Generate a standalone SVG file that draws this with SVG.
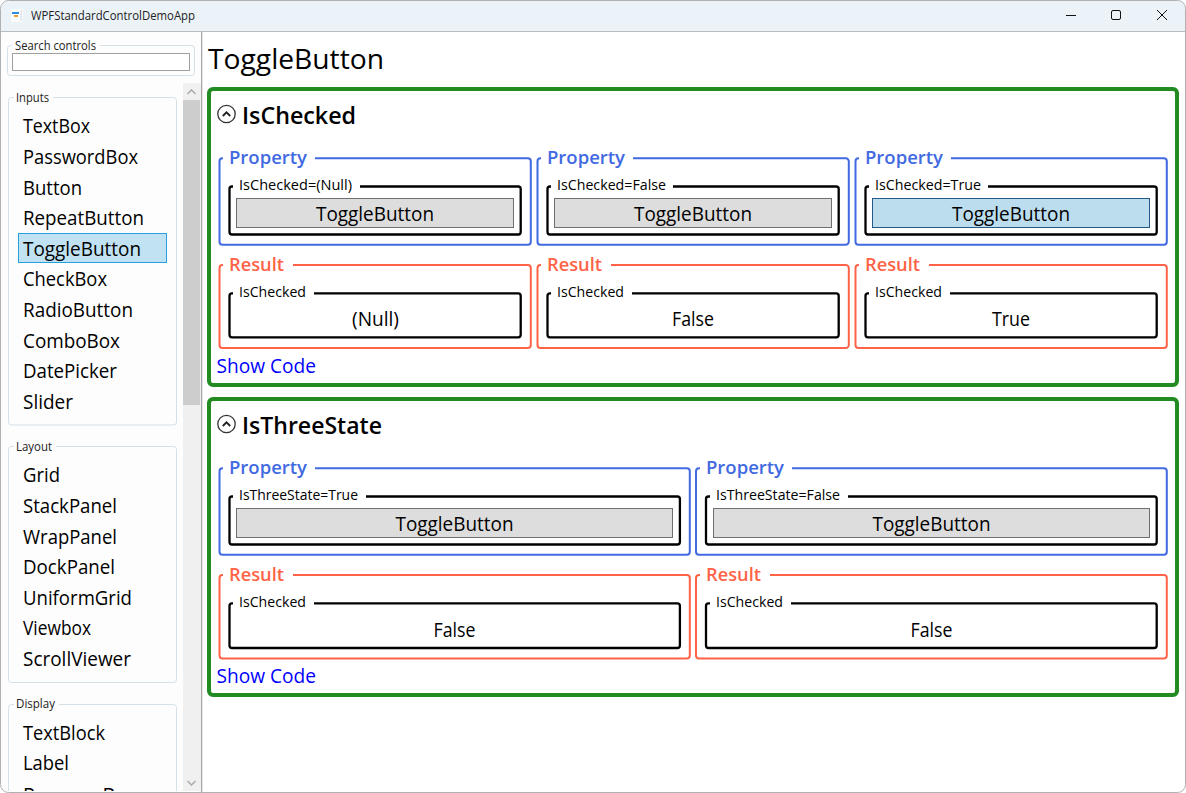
<svg xmlns="http://www.w3.org/2000/svg" width="1186" height="793" viewBox="0 0 1186 793">
<style>
text{font-family:"Open Sans","Noto Sans","Liberation Sans",sans-serif;fill:#000;white-space:pre}
.item{font-size:19.5px}
.small{font-size:12.5px;fill:#222}
.h2{font-size:24px;font-weight:600}
.prop{font-size:18px;font-weight:600;fill:#4169e1}
.res{font-size:18px;font-weight:600;fill:#ff6347}
.lab{font-size:14px}
.val{font-size:19.5px}
.link{font-size:19.5px;fill:#0000ff}
.side{fill:none;stroke:#d5dfe6;stroke-width:1}
.green{fill:none;stroke:#228b22;stroke-width:4}
.blue{fill:none;stroke:#4169e1;stroke-width:2}
.tomato{fill:none;stroke:#ff6347;stroke-width:2}
.black{fill:none;stroke:#000;stroke-width:2.3}
.btn{fill:#dddddd;stroke:#707070;stroke-width:1}
.on{fill:#bcddee;stroke:#245a85;stroke-width:1}
.ico{fill:none;stroke:#333;stroke-width:1.3}
.chev{fill:none;stroke:#222;stroke-width:1.8}
</style>
<defs>
<clipPath id="sideClip"><rect x="2" y="80" width="180" height="711"/></clipPath>
</defs>
<rect width="1186" height="793" fill="#fff"/>
<g id="window">
<path d="M1 31V9a8 8 0 0 1 8-8H1177a8 8 0 0 1 8 8V31Z" fill="#ecf3f8"/>
<path d="M1 31.5H1185" stroke="#b8bcc0" stroke-width="1"/>
<rect x="1" y="32" width="200" height="759" fill="#fdfdfd"/>
<rect x="201" y="32" width="1.3" height="760" fill="#a8a8a8"/>
<rect x="0.5" y="0.5" width="1185" height="792" rx="8" fill="none" stroke="#b0b0b0" stroke-width="1"/>
<rect x="11" y="9" width="12" height="13" fill="#fafbfc"/>
<rect x="12" y="12" width="7" height="2" fill="#2a8fe0"/>
<rect x="14" y="15" width="4" height="2" fill="#e8a030"/>
<rect x="20.5" y="10" width="1.5" height="11" fill="#dfe3ea"/>
<text x="31" y="20" class="small" textLength="164" lengthAdjust="spacingAndGlyphs">WPFStandardControlDemoApp</text>
<path d="M1066 15.5H1076" stroke="#111" stroke-width="1"/>
<rect x="1111.5" y="10.5" width="9" height="9" rx="1.5" fill="none" stroke="#111" stroke-width="1"/>
<path d="M1157 10L1167 20M1167 10L1157 20" stroke="#111" stroke-width="1" fill="none"/>
</g>
<g id="search">
<path class="side" d="M12 45.5H10.5a3 3 0 0 0-3 3V72.5a3 3 0 0 0 3 3H191.5a3 3 0 0 0 3-3V48.5a3 3 0 0 0-3-3H100"/>
<text x="15" y="50" class="small" textLength="81" lengthAdjust="spacingAndGlyphs">Search controls</text>
<rect x="12.5" y="53.5" width="177" height="17" fill="#fff" stroke="#a0a0a0" stroke-width="1"/>
</g>
<g id="scrollbar">
<rect x="183" y="83" width="18" height="708" fill="#f0f0f0"/>
<rect x="183" y="100" width="17" height="305" fill="#cdcdcd"/>
<path d="M187.5 94L191.5 90L195.5 94" fill="none" stroke="#a6a6a6" stroke-width="1.3"/>
<path d="M187.500 781L191.500 785L195.500 781" fill="none" stroke="#a6a6a6" stroke-width="1.3"/>
</g>
<g id="sidebar" clip-path="url(#sideClip)">
<g id="inputs">
<path class="side" d="M14 97.500H11.500a3 3 0 0 0-3 3V422a3 3 0 0 0 3 3H173.500a3 3 0 0 0 3-3V100.500a3 3 0 0 0-3-3H53"/>
<text x="16" y="102" class="small" textLength="33" lengthAdjust="spacingAndGlyphs">Inputs</text>
<rect x="18.500" y="233.500" width="148" height="29" fill="#c1e2f2" stroke="#26a0da" stroke-width="1"/>
<text x="23" y="133" class="item" textLength="67" lengthAdjust="spacingAndGlyphs">TextBox</text>
<text x="23" y="164" class="item" textLength="115" lengthAdjust="spacingAndGlyphs">PasswordBox</text>
<text x="23" y="195" class="item" textLength="59" lengthAdjust="spacingAndGlyphs">Button</text>
<text x="23" y="225" class="item" textLength="121" lengthAdjust="spacingAndGlyphs">RepeatButton</text>
<text x="23" y="256" class="item" textLength="118" lengthAdjust="spacingAndGlyphs">ToggleButton</text>
<text x="23" y="286" class="item" textLength="84" lengthAdjust="spacingAndGlyphs">CheckBox</text>
<text x="23" y="317" class="item" textLength="110" lengthAdjust="spacingAndGlyphs">RadioButton</text>
<text x="23" y="348" class="item" textLength="97" lengthAdjust="spacingAndGlyphs">ComboBox</text>
<text x="23" y="378" class="item" textLength="94" lengthAdjust="spacingAndGlyphs">DatePicker</text>
<text x="23" y="409" class="item" textLength="50" lengthAdjust="spacingAndGlyphs">Slider</text>
</g>
<g id="layout">
<path class="side" d="M14 446.500H11.500a3 3 0 0 0-3 3V679.500a3 3 0 0 0 3 3H173.500a3 3 0 0 0 3-3V449.500a3 3 0 0 0-3-3H56"/>
<text x="16" y="451" class="small" textLength="36" lengthAdjust="spacingAndGlyphs">Layout</text>
<text x="23" y="482" class="item" textLength="37" lengthAdjust="spacingAndGlyphs">Grid</text>
<text x="23" y="513" class="item" textLength="94" lengthAdjust="spacingAndGlyphs">StackPanel</text>
<text x="23" y="544" class="item" textLength="94" lengthAdjust="spacingAndGlyphs">WrapPanel</text>
<text x="23" y="574" class="item" textLength="92" lengthAdjust="spacingAndGlyphs">DockPanel</text>
<text x="23" y="605" class="item" textLength="109" lengthAdjust="spacingAndGlyphs">UniformGrid</text>
<text x="23" y="635" class="item" textLength="68" lengthAdjust="spacingAndGlyphs">Viewbox</text>
<text x="23" y="666" class="item" textLength="108" lengthAdjust="spacingAndGlyphs">ScrollViewer</text>
</g>
<g id="display">
<path class="side" d="M14 704.500H11.500a3 3 0 0 0-3 3V800M176.500 800V707.500a3 3 0 0 0-3-3H59"/>
<text x="16" y="708" class="small" textLength="39" lengthAdjust="spacingAndGlyphs">Display</text>
<text x="23" y="740" class="item" textLength="82" lengthAdjust="spacingAndGlyphs">TextBlock</text>
<text x="23" y="770" class="item" textLength="46" lengthAdjust="spacingAndGlyphs">Label</text>
<text x="23" y="801.500" class="item" textLength="111" lengthAdjust="spacingAndGlyphs">ProgressBar</text>
</g>
</g>
<text id="page-title" x="208" y="69" font-size="28" textLength="176" lengthAdjust="spacingAndGlyphs">ToggleButton</text>

<g id="section-ischecked">
<rect class="green" x="209" y="89" width="968" height="296" rx="4"/>
<circle class="ico" cx="226.500" cy="114" r="8.700"/>
<path class="chev" d="M222.800 116L226.500 112.300L230.200 116"/>
<text x="242" y="124" class="h2" textLength="114" lengthAdjust="spacingAndGlyphs">IsChecked</text>
<text x="216.500" y="373" class="link" textLength="99.500" lengthAdjust="spacingAndGlyphs">Show Code</text>
</g>
<g id="section-isthreestate">
<rect class="green" x="209" y="399" width="968" height="296" rx="4"/>
<circle class="ico" cx="226.500" cy="424" r="8.700"/>
<path class="chev" d="M222.800 426L226.500 422.300L230.200 426"/>
<text x="242" y="434" class="h2" textLength="140" lengthAdjust="spacingAndGlyphs">IsThreeState</text>
<text x="216.500" y="683" class="link" textLength="99.500" lengthAdjust="spacingAndGlyphs">Show Code</text>
</g>

<g id="prop-null">
<path class="blue" d="M223 158.300H222.500a3 3 0 0 0-3 3V241.700a3 3 0 0 0 3 3H527.800a3 3 0 0 0 3-3V161.300a3 3 0 0 0-3-3H315"/>
<text x="229" y="164" class="prop" textLength="78" lengthAdjust="spacingAndGlyphs">Property</text>
<path class="black" d="M233 186.500H232a2.500 2.500 0 0 0-2.500 2.500V232a2.500 2.500 0 0 0 2.500 2.500H518.200a2.500 2.500 0 0 0 2.500-2.500V189a2.500 2.500 0 0 0-2.500-2.500H360"/>
<text x="239" y="190" class="lab" textLength="113" lengthAdjust="spacingAndGlyphs">IsChecked=(Null)</text>
<rect class="btn" x="236.500" y="198.500" width="277" height="29"/>
<text x="316" y="221" class="val" textLength="118" lengthAdjust="spacingAndGlyphs">ToggleButton</text>
</g>
<g id="prop-false">
<path class="blue" d="M541 158.300H540.500a3 3 0 0 0-3 3V241.700a3 3 0 0 0 3 3H845.800a3 3 0 0 0 3-3V161.300a3 3 0 0 0-3-3H633"/>
<text x="547" y="164" class="prop" textLength="78" lengthAdjust="spacingAndGlyphs">Property</text>
<path class="black" d="M551 186.500H550a2.500 2.500 0 0 0-2.500 2.500V232a2.500 2.500 0 0 0 2.500 2.500H836.200a2.500 2.500 0 0 0 2.500-2.500V189a2.500 2.500 0 0 0-2.500-2.500H673"/>
<text x="557" y="190" class="lab" textLength="109" lengthAdjust="spacingAndGlyphs">IsChecked=False</text>
<rect class="btn" x="554.500" y="198.500" width="277" height="29"/>
<text x="634" y="221" class="val" textLength="118" lengthAdjust="spacingAndGlyphs">ToggleButton</text>
</g>
<g id="prop-true">
<path class="blue" d="M859 158.300H858.500a3 3 0 0 0-3 3V241.700a3 3 0 0 0 3 3H1163.800a3 3 0 0 0 3-3V161.300a3 3 0 0 0-3-3H951"/>
<text x="865" y="164" class="prop" textLength="78" lengthAdjust="spacingAndGlyphs">Property</text>
<path class="black" d="M869 186.500H868a2.500 2.500 0 0 0-2.500 2.500V232a2.500 2.500 0 0 0 2.500 2.500H1154.200a2.500 2.500 0 0 0 2.500-2.500V189a2.500 2.500 0 0 0-2.500-2.500H988"/>
<text x="875" y="190" class="lab" textLength="106" lengthAdjust="spacingAndGlyphs">IsChecked=True</text>
<rect class="on" x="872.500" y="198.500" width="277" height="29"/>
<text x="952" y="221" class="val" textLength="118" lengthAdjust="spacingAndGlyphs">ToggleButton</text>
</g>
<g id="res-null">
<path class="tomato" d="M223 265H222.500a3 3 0 0 0-3 3V345a3 3 0 0 0 3 3H527.800a3 3 0 0 0 3-3V268a3 3 0 0 0-3-3H293"/>
<text x="229" y="271" class="res" textLength="55" lengthAdjust="spacingAndGlyphs">Result</text>
<path class="black" d="M233 293.400H232a2.500 2.500 0 0 0-2.500 2.500V334.800a2.500 2.500 0 0 0 2.500 2.500H518.200a2.500 2.500 0 0 0 2.500-2.500V295.900a2.500 2.500 0 0 0-2.500-2.500H314"/>
<text x="239" y="297" class="lab" textLength="67" lengthAdjust="spacingAndGlyphs">IsChecked</text>
<text x="352" y="326" class="val" textLength="47" lengthAdjust="spacingAndGlyphs">(Null)</text>
</g>
<g id="res-false">
<path class="tomato" d="M541 265H540.500a3 3 0 0 0-3 3V345a3 3 0 0 0 3 3H845.800a3 3 0 0 0 3-3V268a3 3 0 0 0-3-3H611"/>
<text x="547" y="271" class="res" textLength="55" lengthAdjust="spacingAndGlyphs">Result</text>
<path class="black" d="M551 293.400H550a2.500 2.500 0 0 0-2.500 2.500V334.800a2.500 2.500 0 0 0 2.500 2.500H836.200a2.500 2.500 0 0 0 2.500-2.500V295.900a2.500 2.500 0 0 0-2.500-2.500H632"/>
<text x="557" y="297" class="lab" textLength="67" lengthAdjust="spacingAndGlyphs">IsChecked</text>
<text x="672" y="326" class="val" textLength="42" lengthAdjust="spacingAndGlyphs">False</text>
</g>
<g id="res-true">
<path class="tomato" d="M859 265H858.500a3 3 0 0 0-3 3V345a3 3 0 0 0 3 3H1163.800a3 3 0 0 0 3-3V268a3 3 0 0 0-3-3H929"/>
<text x="865" y="271" class="res" textLength="55" lengthAdjust="spacingAndGlyphs">Result</text>
<path class="black" d="M869 293.400H868a2.500 2.500 0 0 0-2.500 2.500V334.800a2.500 2.500 0 0 0 2.500 2.500H1154.200a2.500 2.500 0 0 0 2.500-2.500V295.900a2.500 2.500 0 0 0-2.500-2.500H950"/>
<text x="875" y="297" class="lab" textLength="67" lengthAdjust="spacingAndGlyphs">IsChecked</text>
<text x="992" y="326" class="val" textLength="38" lengthAdjust="spacingAndGlyphs">True</text>
</g>

<g id="prop-three-true">
<path class="blue" d="M223 468.300H222.500a3 3 0 0 0-3 3V551.700a3 3 0 0 0 3 3H686.800a3 3 0 0 0 3-3V471.300a3 3 0 0 0-3-3H315"/>
<text x="229" y="474" class="prop" textLength="78" lengthAdjust="spacingAndGlyphs">Property</text>
<path class="black" d="M233 496.500H232a2.500 2.500 0 0 0-2.500 2.500V542a2.500 2.500 0 0 0 2.500 2.500H677.400a2.500 2.500 0 0 0 2.500-2.500V499a2.500 2.500 0 0 0-2.500-2.500H366"/>
<text x="239" y="500" class="lab" textLength="119" lengthAdjust="spacingAndGlyphs">IsThreeState=True</text>
<rect class="btn" x="236.500" y="508.500" width="436" height="29"/>
<text x="395.500" y="531" class="val" textLength="118" lengthAdjust="spacingAndGlyphs">ToggleButton</text>
</g>
<g id="prop-three-false">
<path class="blue" d="M700 468.300H699a3 3 0 0 0-3 3V551.700a3 3 0 0 0 3 3H1163.800a3 3 0 0 0 3-3V471.300a3 3 0 0 0-3-3H792"/>
<text x="706" y="474" class="prop" textLength="78" lengthAdjust="spacingAndGlyphs">Property</text>
<path class="black" d="M710 496.500H708.500a2.500 2.500 0 0 0-2.500 2.500V542a2.500 2.500 0 0 0 2.500 2.500H1154.200a2.500 2.500 0 0 0 2.500-2.500V499a2.500 2.500 0 0 0-2.500-2.500H848"/>
<text x="716" y="500" class="lab" textLength="124" lengthAdjust="spacingAndGlyphs">IsThreeState=False</text>
<rect class="btn" x="713.500" y="508.500" width="436" height="29"/>
<text x="872.500" y="531" class="val" textLength="118" lengthAdjust="spacingAndGlyphs">ToggleButton</text>
</g>
<g id="res-three-true">
<path class="tomato" d="M223 575H222.500a3 3 0 0 0-3 3V655.500a3 3 0 0 0 3 3H686.800a3 3 0 0 0 3-3V578a3 3 0 0 0-3-3H293"/>
<text x="229" y="581" class="res" textLength="55" lengthAdjust="spacingAndGlyphs">Result</text>
<path class="black" d="M233 603.400H232a2.500 2.500 0 0 0-2.500 2.500V645.500a2.500 2.500 0 0 0 2.500 2.500H677.400a2.500 2.500 0 0 0 2.500-2.500V605.900a2.500 2.500 0 0 0-2.500-2.500H314"/>
<text x="239" y="607" class="lab" textLength="67" lengthAdjust="spacingAndGlyphs">IsChecked</text>
<text x="433.500" y="637" class="val" textLength="42" lengthAdjust="spacingAndGlyphs">False</text>
</g>
<g id="res-three-false">
<path class="tomato" d="M700 575H699a3 3 0 0 0-3 3V655.500a3 3 0 0 0 3 3H1163.800a3 3 0 0 0 3-3V578a3 3 0 0 0-3-3H770"/>
<text x="706" y="581" class="res" textLength="55" lengthAdjust="spacingAndGlyphs">Result</text>
<path class="black" d="M710 603.400H708.500a2.500 2.500 0 0 0-2.500 2.500V645.500a2.500 2.500 0 0 0 2.500 2.500H1154.200a2.500 2.500 0 0 0 2.500-2.500V605.900a2.500 2.500 0 0 0-2.500-2.500H791"/>
<text x="716" y="607" class="lab" textLength="67" lengthAdjust="spacingAndGlyphs">IsChecked</text>
<text x="910.500" y="637" class="val" textLength="42" lengthAdjust="spacingAndGlyphs">False</text>
</g>
<g id="connectors"/>
</svg>
